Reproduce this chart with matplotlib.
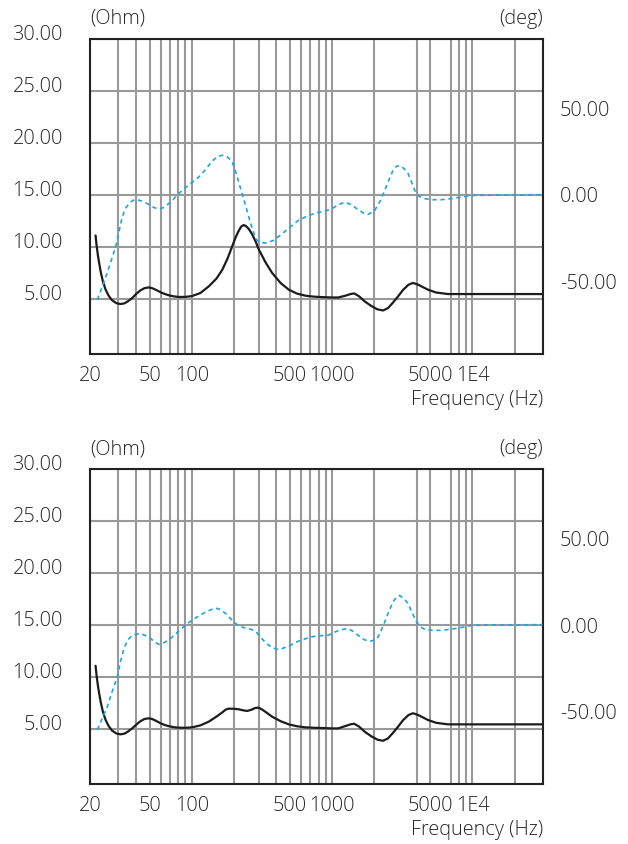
import matplotlib
matplotlib.use("Agg")
import matplotlib.pyplot as plt
import matplotlib.transforms as mtransforms
from matplotlib import font_manager

# ---------------- data ----------------
# Top chart: impedance magnitude (Ohm)
top_imp_freq = [20.6, 21.0, 21.5, 22.4, 23.3, 24.3, 25.5, 27, 29, 31, 33, 35, 37.6, 40, 43, 46,
                49.4, 52, 55, 58, 61.5, 66, 70, 75, 80.8, 90, 100, 115, 132, 150, 165, 180,
                194, 205, 215, 225, 234, 243, 255, 269, 285, 300, 335, 373, 430, 491, 560,
                646, 740, 840, 1000, 1104, 1250, 1350, 1434, 1550, 1707, 1900, 2100, 2305,
                2500, 2700, 2946, 3200, 3500, 3767, 4100, 4818, 5500, 6690, 8000, 31600]
top_imp_ohm = [11.09, 10.0, 9.0, 7.6, 6.6, 5.87, 5.3, 4.85, 4.57, 4.49, 4.55, 4.75, 5.07, 5.45,
               5.8, 6.02, 6.09, 6.02, 5.88, 5.72, 5.55, 5.4, 5.3, 5.22, 5.17, 5.18, 5.25, 5.55,
               6.19, 6.95, 7.8, 8.9, 10.06, 10.9, 11.5, 11.95, 12.09, 12.0, 11.7, 11.2, 10.5,
               9.74, 8.5, 7.49, 6.5, 5.87, 5.5, 5.29, 5.2, 5.16, 5.12, 5.12, 5.3, 5.45, 5.51,
               5.25, 4.74, 4.3, 3.98, 3.87, 4.1, 4.6, 5.22, 5.85, 6.35, 6.52, 6.35, 5.87, 5.6,
               5.45, 5.45, 5.45]
# Top chart: phase (deg)
top_ph_freq = [21.2, 22.5, 24.3, 26.5, 28.6, 30.3, 31.9, 33.5, 35.6, 38, 40.8, 44, 49.4, 54,
               58.2, 63, 70.5, 77, 85.4, 97, 112, 125, 140, 152, 165, 180, 194, 207, 221, 234,
               247, 260, 275, 290, 307, 340, 382, 440, 501, 580, 681, 773, 880, 995, 1100,
               1232, 1380, 1532, 1680, 1804, 2010, 2200, 2370, 2550, 2718, 2870, 3030, 3250,
               3475, 3670, 3873, 4150, 4565, 5200, 5998, 7000, 7890, 10000, 31600]
top_ph_deg = [-60.6, -55.0, -47.6, -38.5, -30.2, -21.0, -12.8, -8.0, -5.1, -3.2, -2.8, -3.6,
              -5.5, -7.4, -8.2, -7.3, -4.2, -1.0, 2.6, 6.3, 10.3, 14.5, 19.6, 22.0, 22.9, 21.8,
              19.0, 12.5, 4.5, -2.5, -9.0, -15.5, -21.5, -26.0, -27.7, -27.8, -26.3, -22.5,
              -18.6, -14.5, -11.9, -10.3, -9.5, -8.0, -5.8, -4.2, -5.8, -8.6, -10.6, -11.3,
              -9.0, -3.5, 2.6, 9.0, 14.2, 16.5, 16.9, 15.2, 12.3, 7.5, 2.6, -0.8, -2.2, -2.8,
              -2.8, -2.2, -1.6, -0.3, 0.1]

# Bottom chart: impedance magnitude (Ohm)
bot_imp_freq = [20.6, 21.0, 21.5, 22.4, 23.3, 24.3, 25.5, 27, 29, 31, 33, 35, 37.6, 40, 43, 46,
                49.4, 52, 55, 58, 61.5, 66, 70, 75, 80.8, 90, 100, 115, 132, 150, 165, 175,
                183, 200, 216, 232, 248, 265, 282, 298, 315, 335, 373, 430, 491, 560, 646, 740,
                840, 1000, 1104, 1250, 1350, 1434, 1550, 1707, 1900, 2100, 2305, 2500, 2700,
                2946, 3200, 3500, 3767, 4100, 4818, 5500, 6690, 8000, 31600]
bot_imp_ohm = [11.09, 10.0, 9.0, 7.6, 6.6, 5.87, 5.3, 4.85, 4.57, 4.49, 4.55, 4.75, 5.07, 5.4,
               5.75, 5.97, 6.03, 5.97, 5.82, 5.65, 5.48, 5.33, 5.25, 5.17, 5.13, 5.12, 5.16,
               5.35, 5.71, 6.2, 6.61, 6.88, 6.96, 6.95, 6.9, 6.8, 6.74, 6.85, 7.02, 7.06, 6.9,
               6.65, 6.19, 5.75, 5.45, 5.27, 5.16, 5.12, 5.1, 5.06, 5.06, 5.3, 5.45, 5.51, 5.25,
               4.74, 4.3, 3.98, 3.87, 4.1, 4.6, 5.22, 5.85, 6.35, 6.52, 6.35, 5.87, 5.6, 5.45,
               5.45, 5.45]
# Bottom chart: phase (deg)
bot_ph_freq = [21.2, 22.8, 24.9, 27, 29.4, 31, 32.8, 35, 37.6, 42, 45.5, 49.4, 54, 58.2, 64,
               72.5, 80, 90, 100, 112, 128, 147, 160, 174, 190, 205, 222, 241, 258, 276, 292,
               307, 340, 373, 405, 438, 501, 570, 646, 720, 803, 936, 1044, 1160, 1300, 1410,
               1532, 1690, 1853, 2000, 2125, 2250, 2370, 2550, 2718, 2870, 3030, 3250, 3475,
               3720, 3990, 4250, 4565, 5200, 5998, 7000, 7890, 10000, 31600]
bot_ph_deg = [-60.5, -54.5, -47.4, -38.5, -30.0, -21.0, -13.6, -8.5, -5.9, -4.9, -5.6, -6.9,
              -9.5, -11.1, -10.0, -6.9, -3.6, -0.1, 2.8, 5.3, 8.0, 9.9, 9.0, 6.7, 3.5, 0.9,
              -0.8, -1.7, -2.2, -3.0, -4.6, -6.9, -10.5, -13.0, -13.9, -13.6, -11.7, -9.4,
              -7.8, -6.7, -6.1, -5.9, -4.0, -2.6, -2.0, -3.6, -5.9, -8.4, -9.4, -8.6, -6.9,
              -2.5, 1.8, 8.5, 13.4, 16.3, 17.1, 15.3, 12.4, 7.0, 1.8, -1.0, -2.4, -3.0, -3.0,
              -2.4, -1.7, -0.1, 0.3]

x_tick_values = [20, 50, 100, 500, 1000, 5000, 10000]
x_tick_labels = ["20", "50", "100", "500", "1000", "5000", "1E4"]
x_grid_values = [30, 40, 60, 70, 80, 90, 200, 300, 400, 600, 700, 800, 900,
                 2000, 4000, 7000, 8000, 9000, 20000]
ohm_ticks = [5, 10, 15, 20, 25, 30]
ohm_tick_labels = ["5.00", "10.00", "15.00", "20.00", "25.00", "30.00"]
deg_ticks = [-50, 0, 50]
deg_tick_labels = ["-50.00", "0.00", "50.00"]

X_MIN, X_MAX = 18.8, 31800
OHM_LIM = (-0.32, 30)
DEG_LIM = (-91.9, 90)

# ---------------- style ----------------
names = {f.name for f in font_manager.fontManager.ttflist}
FAMILY = ["Open Sans", "DejaVu Sans"] if "Open Sans" in names else ["DejaVu Sans"]
plt.rcParams["font.family"] = FAMILY
TXT = "#262626"
FS = 14.3
GRID = "#999999"
IMP_C = "#1c1c1c"
PH_C = "#1aa6e6"

fig = plt.figure(figsize=(6.28, 8.44), dpi=100)
W, H = 628, 844


def make_panel(top_px, imp_f, imp_v, ph_f, ph_v):
    left, right, bottom = 90, 543, top_px + 315
    ax = fig.add_axes([left / W, 1 - bottom / H, (right - left) / W, 315 / H])
    ax.set_xscale("log")
    ax.set_xlim(X_MIN, X_MAX)
    ax.set_ylim(*OHM_LIM)

    xt = [X_MIN] + x_tick_values[1:]
    ax.set_xticks(xt)
    ax.set_xticklabels(x_tick_labels)
    ax.set_xticks(x_grid_values, minor=True)
    ax.xaxis.set_minor_formatter(matplotlib.ticker.NullFormatter())
    ax.set_yticks(ohm_ticks)
    ax.set_yticklabels(ohm_tick_labels)

    ax.grid(True, which="both", color=GRID, linewidth=1.5)
    ax.set_axisbelow(True)
    ax.tick_params(which="both", length=0)
    ax.tick_params(axis="y", pad=19.5, labelsize=FS, labelcolor=TXT)
    ax.tick_params(axis="x", pad=8.5, labelsize=FS, labelcolor=TXT)
    off = mtransforms.ScaledTranslation(0, 6.5 / 100, fig.dpi_scale_trans)
    for lab in ax.get_yticklabels():
        lab.set_transform(lab.get_transform() + off)
        lab.set_fontweight("light")
    for lab in ax.get_xticklabels():
        lab.set_fontweight("light")
    for sp in ax.spines.values():
        sp.set_color("#222222")
        sp.set_linewidth(1.5)

    ax.plot(imp_f, imp_v, color=IMP_C, linewidth=1.6, zorder=4,
            solid_joinstyle="round", solid_capstyle="round")

    ax2 = ax.twinx()
    ax2.set_ylim(*DEG_LIM)
    ax2.set_yticks(deg_ticks)
    ax2.set_yticklabels(deg_tick_labels)
    ax2.tick_params(length=0, pad=12, labelsize=FS, labelcolor=TXT)
    for lab in ax2.get_yticklabels():
        lab.set_fontweight("light")
    for sp in ax2.spines.values():
        sp.set_visible(False)
    ax2.plot(ph_f, ph_v, color=PH_C, linewidth=1.2, dashes=(2.6, 2.2), zorder=3)

    ax.text(0, 1 + 15 / 315, "(Ohm)", transform=ax.transAxes, ha="left",
            va="baseline", fontsize=FS, color=TXT, fontweight="light")
    ax.text(1, 1 + 15 / 315, "(deg)", transform=ax.transAxes, ha="right",
            va="baseline", fontsize=FS, color=TXT, fontweight="light")
    ax.text(1, -51 / 315, "Frequency (Hz)", transform=ax.transAxes, ha="right",
            va="baseline", fontsize=FS, color=TXT, fontweight="light")
    return ax


make_panel(39, top_imp_freq, top_imp_ohm, top_ph_freq, top_ph_deg)
make_panel(469.3, bot_imp_freq, bot_imp_ohm, bot_ph_freq, bot_ph_deg)

fig.savefig("out.png", dpi=100)
